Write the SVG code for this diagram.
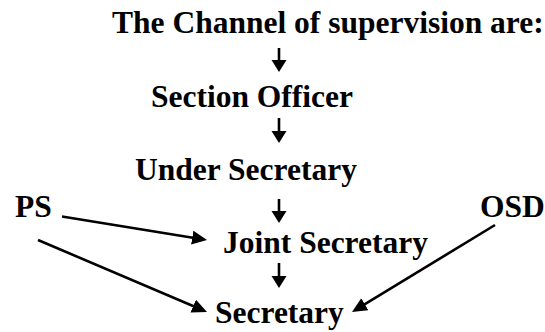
<svg xmlns="http://www.w3.org/2000/svg" width="545" height="332" viewBox="0 0 545 332">
<style>
  text { font-family: "Liberation Serif", "Times New Roman", serif; font-weight: bold; font-size: 31.5px; fill: #000; }
  .conn line { stroke: #000; stroke-width: 2.6; fill: none; }
</style>
<defs>
  <marker id="big" markerUnits="userSpaceOnUse" markerWidth="17" markerHeight="15" refX="10" refY="7" orient="auto">
    <path d="M0,0 L15,7 L0,14 z" fill="#000"/>
  </marker>
  <marker id="small" markerUnits="userSpaceOnUse" markerWidth="13" markerHeight="16" refX="8" refY="7.5" orient="auto">
    <path d="M0,0 L12,7.5 L0,15 z" fill="#000"/>
  </marker>
</defs>
<rect width="545" height="332" fill="#fff"/>
<g id="title"><text x="112" y="33">The Channel of supervision are:</text></g>
<g id="section-officer"><text x="151" y="107">Section Officer</text></g>
<g id="under-secretary"><text x="135" y="180">Under Secretary</text></g>
<g id="ps"><text x="15" y="217">PS</text></g>
<g id="osd"><text x="480" y="217">OSD</text></g>
<g id="joint-secretary"><text x="223" y="253">Joint Secretary</text></g>
<g id="secretary"><text x="215" y="323">Secretary</text></g>
<g class="conn" id="connectors">
  <line x1="279" y1="48" x2="279" y2="68" marker-end="url(#small)"/>
  <line x1="279" y1="118" x2="279" y2="139" marker-end="url(#small)"/>
  <line x1="279" y1="199" x2="279" y2="219" marker-end="url(#small)"/>
  <line x1="279" y1="263" x2="279" y2="284" marker-end="url(#small)"/>
  <line x1="62" y1="216.5" x2="202.1" y2="239.2" marker-end="url(#big)"/>
  <line x1="38" y1="240" x2="202.4" y2="310" marker-end="url(#big)"/>
  <line x1="495" y1="225" x2="356.3" y2="309.4" marker-end="url(#big)"/>
</g>
</svg>
